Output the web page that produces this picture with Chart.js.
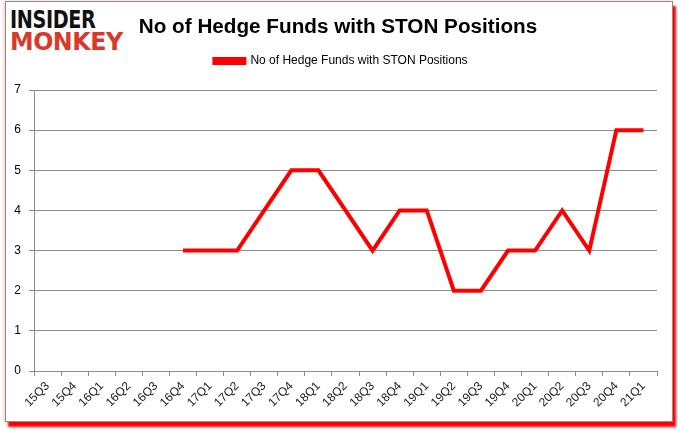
<!DOCTYPE html>
<html lang="en">
<head>
    <meta charset="UTF-8" />
    <title>No of Hedge Funds with STON Positions</title>
    <script src="https://cdn.jsdelivr.net/npm/chart.js"></script>
    <style>
        html, body {
            margin: 0;
            padding: 0;
            background: #fff;
            width: 678px;
            height: 431px;
            overflow: hidden;
        }

        .frame {
            position: absolute;
            left: 5px;
            top: 1px;
            width: 666px;
            height: 419px;
            border: 1px solid #8c8c8c;
            box-shadow: 3px 5px 2px #ff0000, -1px 0 3px rgba(255, 0, 0, 0.25);
            background: #fff;
        }

        .logo {
            position: absolute;
            left: 10px;
            top: 9px;
            font-family: "DejaVu Sans", sans-serif;
            font-weight: bold;
            font-size: 25px;
            line-height: 22px;
            letter-spacing: -0.5px;
        }

        .logo div {
            transform-origin: 0 0;
            white-space: nowrap;
        }

        .logo .top { color: #111; transform: scaleX(0.77); }
        .logo .bottom { color: #d9392b; transform: scaleX(0.95); }

        canvas {
            position: absolute;
            left: 0;
            top: 0;
        }
    </style>
</head>
<body>
    <div class="frame"></div>
    <div class="logo"><div class="top">INSIDER</div><div class="bottom">MONKEY</div></div>
    <canvas id="lineChart" width="678" height="431"></canvas>

    <script>
        const quarters = ["15Q3", "15Q4", "16Q1", "16Q2", "16Q3", "16Q4", "17Q1", "17Q2",
            "17Q3", "17Q4", "18Q1", "18Q2", "18Q3", "18Q4", "19Q1", "19Q2", "19Q3", "19Q4",
            "20Q1", "20Q2", "20Q3", "20Q4", "21Q1"];

        // no data before 16Q4
        const fundCounts = [null, null, null, null, null, 3, 3, 3,
            4, 5, 5, 4, 3, 4, 4, 2, 2, 3,
            3, 4, 3, 6, 6];

        const yTicks = [0, 1, 2, 3, 4, 5, 6, 7];

        // title and legend sit a bit right of the plot centre in the original
        const headerNudge = {
            id: "headerNudge",
            afterLayout(chart) {
                chart.legend.left += 6;
                chart.legend.right += 6;
                chart.titleBlock.left += 3;
                chart.titleBlock.right += 3;
            }
        };

        const ctx = document.getElementById("lineChart").getContext("2d");

        new Chart(ctx, {
            type: "line",
            data: {
                labels: quarters,
                datasets: [{
                    label: "No of Hedge Funds with STON Positions",
                    data: fundCounts,
                    borderColor: "#ff0000",
                    backgroundColor: "#ff0000",
                    borderWidth: 4,
                    pointRadius: 0,
                    tension: 0,
                    fill: false
                }]
            },
            plugins: [headerNudge],
            options: {
                responsive: false,
                animation: false,
                layout: {
                    padding: { left: 13, right: 21, top: 0, bottom: 10 }
                },
                plugins: {
                    title: {
                        display: true,
                        text: "No of Hedge Funds with STON Positions",
                        color: "#000",
                        font: { family: "Liberation Sans", size: 20.7, weight: "bold" },
                        padding: { top: 15, bottom: 5.2 }
                    },
                    // empty subtitle used as a gap between legend and plot
                    subtitle: {
                        display: true,
                        text: "",
                        weight: 500,
                        font: { size: 1 },
                        padding: { top: 11.8, bottom: 0 }
                    },
                    legend: {
                        display: true,
                        labels: {
                            boxWidth: 30,
                            boxHeight: 4,
                            padding: 10,
                            color: "#000",
                            font: { family: "Liberation Sans", size: 12 }
                        }
                    },
                    tooltip: { enabled: false }
                },
                scales: {
                    x: {
                        offset: true,
                        grid: {
                            offset: true,
                            drawOnChartArea: false,
                            drawTicks: true,
                            tickLength: 5,
                            color: "#8c8c8c"
                        },
                        border: { color: "#8c8c8c" },
                        ticks: {
                            minRotation: 45,
                            maxRotation: 45,
                            autoSkip: false,
                            color: "#222",
                            font: { family: "Liberation Sans", size: 12 }
                        },
                        afterFit: s => { s.height = 50; }
                    },
                    y: {
                        min: 0,
                        max: 7,
                        afterBuildTicks: s => { s.ticks = yTicks.map(v => ({ value: v })); },
                        grid: {
                            color: "#8c8c8c",
                            tickLength: 5
                        },
                        border: { color: "#8c8c8c" },
                        ticks: {
                            padding: 8,
                            color: "#000",
                            font: { family: "Liberation Sans", size: 12 }
                        },
                        afterFit: s => { s.width = 21; }
                    }
                }
            }
        });
    </script>
</body>
</html>
